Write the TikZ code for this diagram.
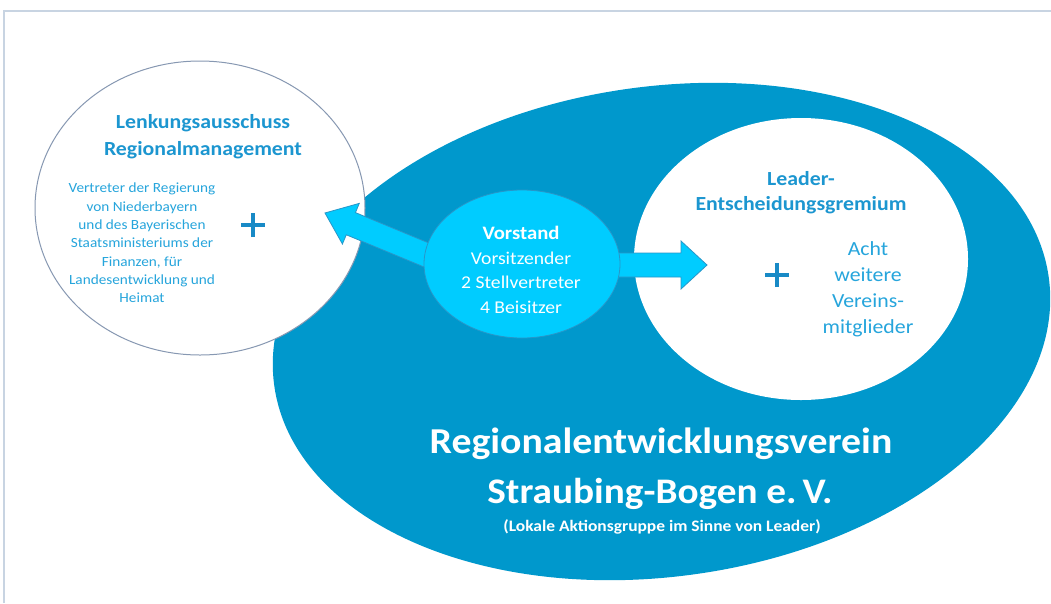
\documentclass[tikz,border=0pt]{standalone}
\usepackage{fontspec}
\setmainfont{Carlito}[FakeStretch=1.09]
\usetikzlibrary{shapes.geometric}
\definecolor{bigblue}{RGB}{0,152,204}
\definecolor{cyanfill}{RGB}{0,204,255}
\definecolor{cyanedge}{RGB}{40,150,200}
\definecolor{txtblue}{RGB}{38,165,220}
\definecolor{ttlblue}{RGB}{28,150,208}
\definecolor{plusblue}{RGB}{24,138,198}
\definecolor{circedge}{RGB}{135,152,178}
\definecolor{framec}{RGB}{200,212,226}
\tikzset{
  blockarrow/.style={fill=cyanfill, draw=cyanedge, line width=0.8pt, line join=miter},
  plussign/.style={draw=plusblue, line width=4.5pt},
  bodytxt/.style={text=txtblue, align=center, inner sep=0pt},
  ttltxt/.style={text=ttlblue, font=\bfseries\fontsize{20}{25}\selectfont, inner sep=0pt, anchor=base},
}
\begin{document}
\begin{tikzpicture}[x=1pt,y=-1pt]
\useasboundingbox (0,0) rectangle (1051,603);
\fill[white] (0,0) rectangle (1051,603);
\draw[framec, line width=2pt] (4,603) -- (4,11) -- (1051,11);
% big ellipse
\node[ellipse, fill=bigblue, rotate=8, minimum width=782pt, minimum height=490pt, inner sep=0pt] (verein) at (661.5,331.5) {};
% left circle
\node[ellipse, fill=white, draw=circedge, line width=1pt, minimum width=330pt, minimum height=294pt, inner sep=0pt] (lenk) at (200,208) {};
% right circle
\node[ellipse, fill=white, minimum width=334pt, minimum height=282pt, inner sep=0pt] (leader) at (801,259) {};
% arrows
\coordinate (lt) at (325,213);
\coordinate (rt) at (707,265);
\draw[blockarrow, rotate around={-22.5:(lt)}] (lt) -- ++(28,-22) -- ++(0,10) -- ++(125,0) -- ++(0,24) -- ++(-125,0) -- ++(0,10) -- cycle;
\draw[blockarrow] (rt) -- ++(-26,-24) -- ++(0,12) -- ++(-110,0) -- ++(0,24) -- ++(110,0) -- ++(0,12) -- cycle;
% Vorstand
\node[ellipse, fill=cyanfill, draw=cyanedge, line width=0.8pt, minimum width=196pt, minimum height=148pt, inner sep=0pt] (vorstand) at (522,264) {};
\node[text=white, align=center, inner sep=0pt, font=\fontsize{18}{24.5}\selectfont] (vtxt) at (521,270)
  {{\bfseries\fontsize{19}{24.5}\selectfont Vorstand}\\Vorsitzender\\2 Stellvertreter\\4 Beisitzer};
% left circle texts
\node[ttltxt] (lt1) at (203,128) {Lenkungsausschuss};
\node[ttltxt] (lt2) at (203,155) {Regionalmanagement};
\node[bodytxt, font=\fontsize{14}{18.3}\selectfont] (lbody) at (142,243)
  {Vertreter der Regierung\\von Niederbayern\\und des Bayerischen\\Staatsministeriums der\\Finanzen, für\\Landesentwicklung und\\Heimat};
\coordinate (lp) at (253,225);
\draw[plussign] ([xshift=-12pt]lp) -- ([xshift=12pt]lp) ([yshift=-12pt]lp) -- ([yshift=12pt]lp);
% right circle texts
\node[ttltxt] (rt1) at (801,185) {Leader-};
\node[ttltxt] (rt2) at (801,210) {Entscheidungsgremium};
\node[bodytxt, font=\fontsize{20}{26}\selectfont] (rbody) at (868,289)
  {Acht\\weitere\\Vereins-\\mitglieder};
\coordinate (rp) at (777,275);
\draw[plussign] ([xshift=-12pt]rp) -- ([xshift=12pt]rp) ([yshift=-12pt]rp) -- ([yshift=12pt]rp);
% big texts
\node[text=white, font=\bfseries\fontsize{36.5}{40}\selectfont, inner sep=0pt, anchor=base] (b1) at (661,453) {Regionalentwicklungsverein};
\node[text=white, font=\bfseries\fontsize{36}{40}\selectfont, inner sep=0pt, anchor=base] (b2) at (660,503) {Straubing-Bogen e.\,V.};
\node[text=white, font=\bfseries\fontsize{16}{18}\selectfont, inner sep=0pt, anchor=base] (b3) at (662,531) {(Lokale Aktionsgruppe im Sinne von Leader)};
\end{tikzpicture}
\end{document}
